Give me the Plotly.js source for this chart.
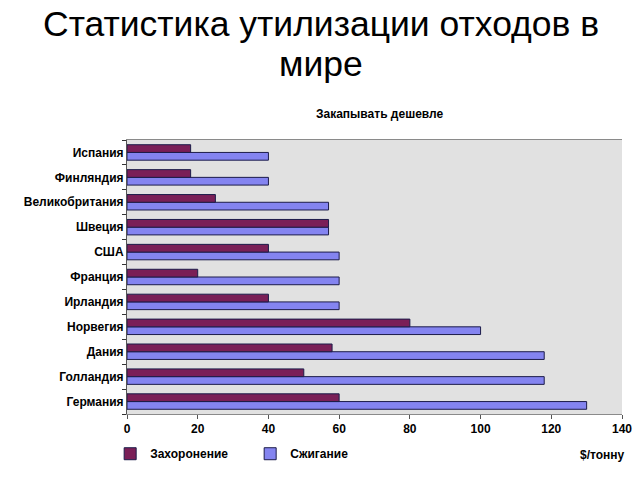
<!DOCTYPE html>
<html>
<head>
<meta charset="utf-8">
<script src="https://cdn.plot.ly/plotly-3.0.1.min.js"></script>
<style>html,body{margin:0;padding:0;background:#fff;}#chart{width:640px;height:480px;}</style>
</head>
<body>
<div id="chart"></div>
<script>
// Categories listed bottom to top (Plotly draws the first category at the bottom)
const countries = ["Германия", "Голландия", "Дания", "Норвегия", "Ирландия", "Франция", "США", "Швеция", "Великобритания", "Финляндия", "Испания"];
const landfill = [60, 50, 58, 80, 40, 20, 40, 57, 25, 18, 18];        // Захоронение, $/тонну
const incineration = [130, 118, 118, 100, 60, 60, 60, 57, 57, 40, 40]; // Сжигание, $/тонну
const xTicks = [0, 20, 40, 60, 80, 100, 120, 140];
const titleLines = ["Статистика утилизации отходов в", "мире"];

const lineCol = "#1c1c4a";
const traces = [
  {type: "bar", orientation: "h", name: "Сжигание", y: countries, x: incineration,
   marker: {color: "#8484f0", line: {color: lineCol, width: 1}}, legendrank: 2},
  {type: "bar", orientation: "h", name: "Захоронение", y: countries, x: landfill,
   marker: {color: "#7a1f57", line: {color: lineCol, width: 1}}, legendrank: 1}
];

const titleFont = {size: 35.5, color: "#000", family: "Liberation Sans, Arial, sans-serif"};
const layout = {
  width: 640, height: 480,
  margin: {l: 127, r: 18, t: 140, b: 56},
  paper_bgcolor: "#ffffff",
  plot_bgcolor: "#e1e1e1",
  font: {family: "Liberation Sans, Arial, sans-serif", color: "#000"},
  barmode: "group", bargap: 0.38, bargroupgap: 0,
  xaxis: {range: [0, 140], tickvals: xTicks, ticks: "outside", ticklen: 4, tickcolor: "#555",
          showgrid: false, zeroline: false, showline: true, linecolor: "#8a8a8a", mirror: true,
          tickfont: {size: 12, family: "Liberation Sans, Arial, sans-serif", weight: "bold"}},
  yaxis: {type: "category", ticks: "outside", tickson: "boundaries", ticklen: 4, tickcolor: "#333",
          showgrid: false, showline: true, linecolor: "#555", mirror: false,
          tickfont: {size: 12, family: "Liberation Sans, Arial, sans-serif", weight: "bold"}},
  showlegend: true,
  legend: {orientation: "h", x: -0.034, xanchor: "left", y: -0.145, yanchor: "middle",
           traceorder: "normal", font: {size: 12, weight: "bold"}, entrywidth: 95, entrywidthmode: "pixels",
           bgcolor: "rgba(0,0,0,0)", itemwidth: 30},
  annotations: [
    {text: titleLines[0], xref: "paper", yref: "paper", x: 0.392, y: 1.425, xanchor: "center", yanchor: "middle",
     showarrow: false, font: titleFont},
    {text: titleLines[1], xref: "paper", yref: "paper", x: 0.392, y: 1.277, xanchor: "center", yanchor: "middle",
     showarrow: false, font: titleFont},
    {text: "Закапывать дешевле", xref: "paper", yref: "paper", x: 0.51, y: 1.095, xanchor: "center", yanchor: "middle",
     showarrow: false, font: {size: 12, weight: "bold"}},
    {text: "$/тонну", xref: "paper", yref: "paper", x: 1.01, y: -0.148, xanchor: "right", yanchor: "middle",
     showarrow: false, font: {size: 12, weight: "bold"}}
  ]
};

Plotly.newPlot("chart", traces, layout, {displayModeBar: false, staticPlot: true});
</script>
</body>
</html>
